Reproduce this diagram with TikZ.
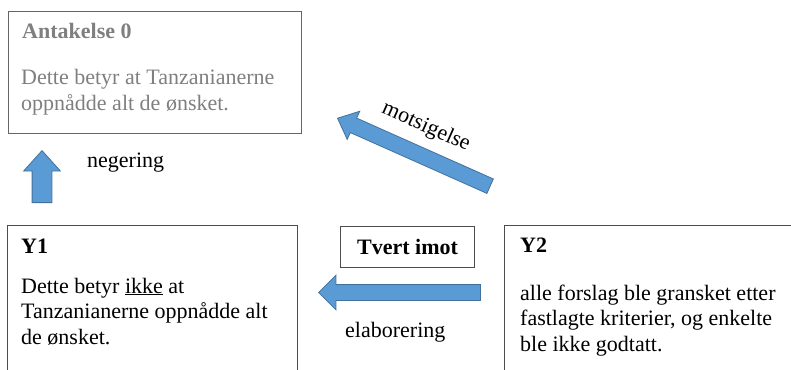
\documentclass[tikz,border=0pt]{standalone}
\usepackage{fontspec}
\setmainfont{Liberation Serif}
\usetikzlibrary{shapes.arrows, positioning}

\definecolor{arrowblue}{HTML}{5B9BD5}
\definecolor{arrowedge}{HTML}{41719C}
\definecolor{faded}{HTML}{7F7F7F}

\tikzset{
  box/.style={draw=black!70, line width=1.2pt, inner sep=0, anchor=north west},
  txt/.style={anchor=base west, inner sep=0, align=left, font=\fontsize{22}{25.5}\selectfont},
  blockarrow/.style={single arrow, draw=arrowedge, fill=arrowblue, line width=0.8pt,
    inner xsep=0, single arrow head indent=0, anchor=tip}
}

\begin{document}
\begin{tikzpicture}[x=1pt, y=-1pt]
\useasboundingbox (0,0) rectangle (791,369);

% boxes
\node[box, draw=black!60, minimum width=293, minimum height=122] (ant) at (8,11) {};
\node[box, minimum width=290, minimum height=170] (y1) at (7,225) {};
\node[box, minimum width=300, minimum height=170] (y2) at (504,225) {};
\node[box, minimum width=134, minimum height=41] (tvert) at (340,226) {};

% texts (base = last line)
\node[txt, text=faded, font=\fontsize{22}{25.5}\selectfont\bfseries] (antt) at (22,38) {Antakelse 0};
\node[txt, text=faded] (antb) at (21,110) {Dette betyr at Tanzanianerne\\oppnådde alt de ønsket.};
\node[txt, font=\fontsize{22}{25.5}\selectfont\bfseries] (y1t) at (21,253) {Y1};
\node[txt] (y1b) at (21,344) {Dette betyr \underline{ikke} at\\Tanzanianerne oppnådde alt\\de ønsket.};
\node[txt, font=\fontsize{22}{25.5}\selectfont\bfseries] (y2t) at (520,252) {Y2};
\node[txt] (y2b) at (520,351) {alle forslag ble gransket etter\\fastlagte kriterier, og enkelte\\ble ikke godtatt.};
\node[font=\fontsize{22}{25.5}\selectfont\bfseries, inner sep=0] (tverttxt) at (tvert.center) {Tvert imot};

% arrows
\node[blockarrow, inner ysep=9.5, minimum height=52, minimum width=36, single arrow head extend=8.5,
  single arrow tip angle=84, rotate=90] (neg) at (42,150) {};
\node[txt] (negtxt) at (87,167) {negering};

\node[blockarrow, inner ysep=7.5, minimum height=162, minimum width=34, single arrow head extend=9.5,
  single arrow tip angle=90, rotate=180] (elab) at (318,292.5) {};
\node[txt] (elabtxt) at (345,337) {elaborering};

\node[blockarrow, inner ysep=7.5, minimum height=167, minimum width=30, single arrow head extend=7.5,
  single arrow tip angle=83, rotate=156] (mots) at (337,118) {};
\node[font=\fontsize{22}{25.5}\selectfont, inner sep=0, rotate=-24] (motstxt) at (426,127) {motsigelse};
\end{tikzpicture}
\end{document}
